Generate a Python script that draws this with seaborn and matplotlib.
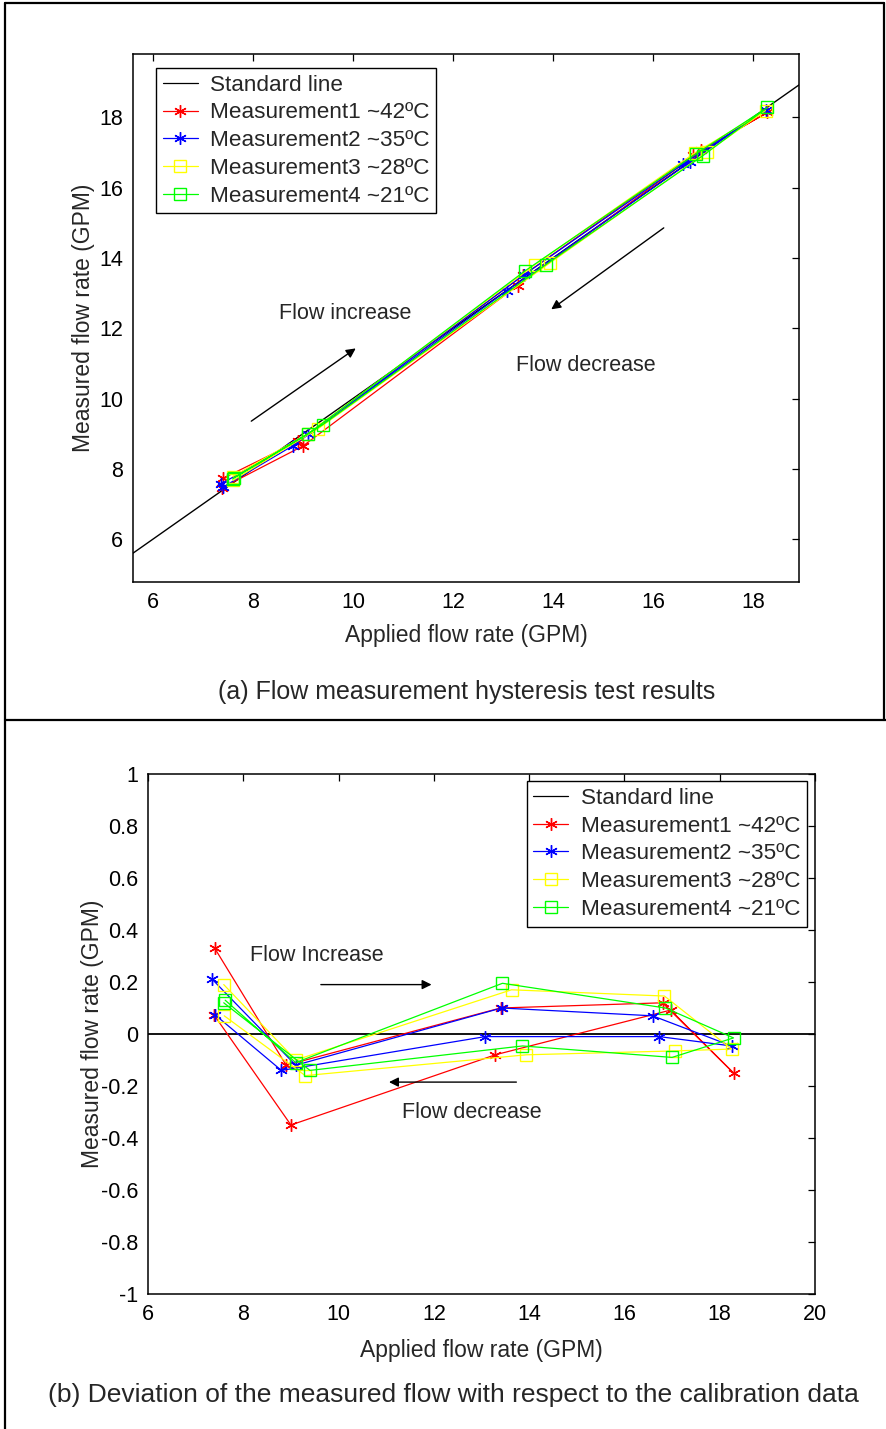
import numpy as np
import pandas as pd
import matplotlib
matplotlib.use("Agg")
import matplotlib.pyplot as plt
from matplotlib.lines import Line2D
import seaborn as sns

# ---------------- data ----------------
labels = ["Measurement1 ~42ºC", "Measurement2 ~35ºC",
          "Measurement3 ~28ºC", "Measurement4 ~21ºC"]
colors = ["#ff0000", "#0000ff", "#ffff00", "#00ff00"]

# applied flow (increase then decrease sweep)
m1_applied = [7.40, 8.90, 13.40, 16.80, 18.29, 16.97, 13.29, 9.00, 7.38]
m2_applied = [7.35, 9.10, 13.42, 16.59, 18.25, 16.73, 13.08, 8.80, 7.40]
m3_applied = [7.59, 9.10, 13.63, 16.84, 18.25, 17.07, 13.94, 9.30, 7.60]
m4_applied = [7.62, 9.10, 13.44, 16.86, 18.29, 17.00, 13.86, 9.40, 7.59]

# measured flow (panel a)
m1_measured = [7.73, 8.78, 13.50, 16.92, 18.14, 17.06, 13.21, 8.65, 7.46]
m2_measured = [7.56, 8.98, 13.52, 16.66, 18.20, 16.72, 13.07, 8.66, 7.48]
m3_measured = [7.78, 9.00, 13.80, 16.99, 18.19, 17.00, 13.86, 9.14, 7.67]
m4_measured = [7.75, 8.99, 13.63, 16.96, 18.28, 16.91, 13.81, 9.26, 7.71]

# deviation (panel b)
m1_dev = [0.33, -0.12, 0.10, 0.12, -0.15, 0.092, -0.08, -0.35, 0.075]
m2_dev = [0.21, -0.12, 0.10, 0.07, -0.046, -0.01, -0.01, -0.14, 0.075]
m3_dev = [0.19, -0.10, 0.17, 0.146, -0.058, -0.065, -0.08, -0.16, 0.07]
m4_dev = [0.13, -0.11, 0.195, 0.10, -0.015, -0.09, -0.046, -0.14, 0.12]

applied = [m1_applied, m2_applied, m3_applied, m4_applied]
measured = [m1_measured, m2_measured, m3_measured, m4_measured]
deviation = [m1_dev, m2_dev, m3_dev, m4_dev]
markers = [(6, 2, 0), (6, 2, 0), "s", "s"]

top_xticks = [6, 8, 10, 12, 14, 16, 18]
top_yticks = [6, 8, 10, 12, 14, 16, 18]
bot_xticks = [6, 8, 10, 12, 14, 16, 18, 20]
bot_yticks = [-1, -0.8, -0.6, -0.4, -0.2, 0, 0.2, 0.4, 0.6, 0.8, 1]
bot_yticklabels = ["-1", "-0.8", "-0.6", "-0.4", "-0.2", "0",
                   "0.2", "0.4", "0.6", "0.8", "1"]

# ---------------- style ----------------
sns.set_style("white")
plt.rcParams["font.family"] = ["Liberation Sans", "DejaVu Sans"]
plt.rcParams["axes.edgecolor"] = "black"
plt.rcParams["axes.linewidth"] = 1.0

W, H = 886, 1429
fig = plt.figure(figsize=(W / 100, H / 100), dpi=100)
fig.patch.set_facecolor("white")

ax1 = fig.add_axes([133 / W, 1 - 582 / H, 666 / W, 528 / H])
ax2 = fig.add_axes([148 / W, 1 - 1294 / H, 667 / W, 520 / H])


def draw_series(ax, xs_list, ys_list):
    handles = []
    for xs, ys, c, m, lab in zip(xs_list, ys_list, colors, markers, labels):
        df = pd.DataFrame({"x": xs, "y": ys})
        if m == "s":
            mk = dict(marker="s", markersize=8, markerfacecolor="none",
                      markeredgecolor=c, markeredgewidth=1.0)
        else:
            mk = dict(marker=m, markersize=9, markerfacecolor=c,
                      markeredgecolor=c, markeredgewidth=1.0)
        sns.lineplot(data=df, x="x", y="y", sort=False, estimator=None,
                     color=c, linewidth=0.9, ax=ax, legend=False, **mk)
        handles.append(Line2D([], [], color=c, linewidth=0.9, label=lab, **mk))
    return handles


LEG_KW = dict(borderaxespad=0, fontsize=16.2, frameon=True, fancybox=False,
              edgecolor="black", framealpha=1, handlelength=1.55,
              labelspacing=0.3, borderpad=0.3, handletextpad=0.55)

# ---------------- panel (a) ----------------
ax1.axline((6, 6), (18, 18), color="black", linewidth=1.0,
           label="Standard line", zorder=1)
h1 = draw_series(ax1, applied, measured)
ax1.set_xlim(5.6, 18.92)
ax1.set_ylim(4.78, 19.8)
ax1.set_xticks(top_xticks)
ax1.set_yticks(top_yticks)
ax1.set_xlabel("Applied flow rate (GPM)", fontsize=16.5, labelpad=8)
ax1.set_ylabel("Measured flow rate (GPM)", fontsize=16.5, labelpad=3)
leg1 = ax1.legend(handles=[Line2D([], [], color="black", linewidth=0.9,
                                  label="Standard line")] + h1,
                  loc="upper left", bbox_to_anchor=(0.0345, 0.9735), **LEG_KW)
leg1.get_frame().set_linewidth(1.0)

ax1.annotate("", xy=(10.1, 11.47), xytext=(7.92, 9.31),
             arrowprops=dict(arrowstyle="-|>", color="black", lw=1.0,
                             mutation_scale=14))
ax1.text(9.84, 12.43, "Flow increase", fontsize=15.5, ha="center", va="center")
ax1.annotate("", xy=(13.92, 12.49), xytext=(16.26, 14.9),
             arrowprops=dict(arrowstyle="-|>", color="black", lw=1.0,
                             mutation_scale=14))
ax1.text(14.66, 10.95, "Flow decrease", fontsize=15.5, ha="center", va="center")

# ---------------- panel (b) ----------------
ax2.axhline(0, color="black", linewidth=1.3, zorder=1)
h2 = draw_series(ax2, applied, deviation)
ax2.set_xlim(6, 20)
ax2.set_ylim(-1, 1)
ax2.set_xticks(bot_xticks)
ax2.set_yticks(bot_yticks)
ax2.set_yticklabels(bot_yticklabels)
ax2.set_xlabel("Applied flow rate (GPM)", fontsize=16.5, labelpad=10)
ax2.set_ylabel("Measured flow rate (GPM)", fontsize=16.5, labelpad=-2)
leg2 = ax2.legend(handles=[Line2D([], [], color="black", linewidth=0.9,
                                  label="Standard line")] + h2,
                  loc="upper right", bbox_to_anchor=(0.988, 0.9865), **LEG_KW)
leg2.get_frame().set_linewidth(1.0)

ax2.text(9.55, 0.30, "Flow Increase", fontsize=15.5, ha="center", va="center")
ax2.annotate("", xy=(12.01, 0.19), xytext=(9.57, 0.19),
             arrowprops=dict(arrowstyle="-|>", color="black", lw=1.0,
                             mutation_scale=14))
ax2.text(12.79, -0.30, "Flow decrease", fontsize=15.5, ha="center", va="center")
ax2.annotate("", xy=(11.0, -0.185), xytext=(13.79, -0.185),
             arrowprops=dict(arrowstyle="-|>", color="black", lw=1.0,
                             mutation_scale=14))

for ax in (ax1, ax2):
    ax.tick_params(direction="in", top=True, right=True, length=5,
                   width=0.9, labelsize=15.5, colors="black", pad=7)
    for s in ax.spines.values():
        s.set_visible(True)
        s.set_color("black")
        s.set_linewidth(1.1)
    ax.grid(False)

# ---------------- captions & frame ----------------
fig.text(467 / W, 1 - 692 / H, "(a) Flow measurement hysteresis test results",
         fontsize=18, ha="center", va="center")
fig.text(453 / W, 1 - 1395 / H,
         "(b) Deviation of the measured flow with respect to the calibration data",
         fontsize=19, ha="center", va="center")

lw = 1.6
frame = [
    ((5, 5), (3, H)),
    ((5, 884), (3, 3)),
    ((884, 884), (3, 720)),
    ((5, W), (720, 720)),
]
for (xs, ys) in frame:
    fig.add_artist(Line2D([x / W for x in xs], [1 - y / H for y in ys],
                          color="black", linewidth=lw,
                          transform=fig.transFigure))

fig.savefig("out.png", dpi=100, facecolor="white")
